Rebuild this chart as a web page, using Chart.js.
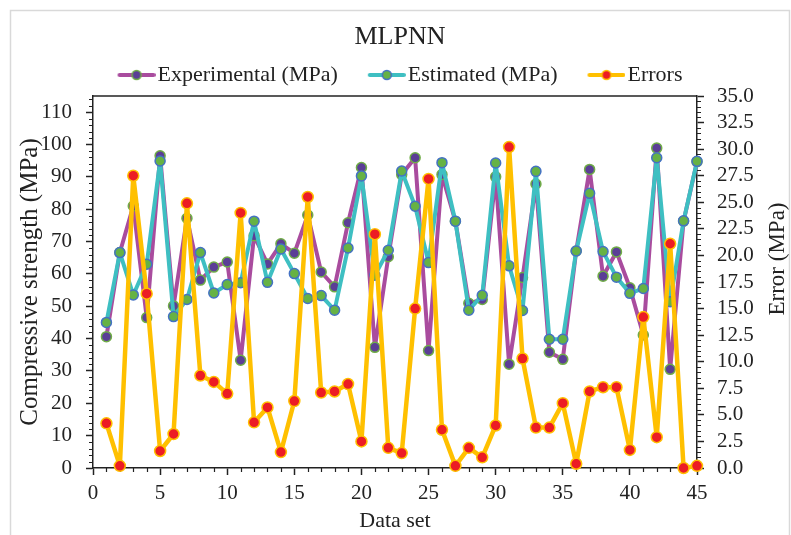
<!DOCTYPE html>
<html>
<head>
<meta charset="utf-8">
<script src="https://cdn.jsdelivr.net/npm/chart.js@4.4.1/dist/chart.umd.min.js"></script>
<style>
  html, body { margin: 0; padding: 0; background: #fff; }
  #wrap { position: relative; width: 791px; height: 535px; }
</style>
</head>
<body>
<div id="wrap"><canvas id="c" width="791" height="535"></canvas></div>
<script>
// ---- data ----
const dataSet = [1,2,3,4,5,6,7,8,9,10,11,12,13,14,15,16,17,18,19,20,21,22,23,24,25,26,27,28,29,30,31,32,33,34,35,36,37,38,39,40,41,42,43,44,45];
const experimental = [40.6,66.6,81.0,46.5,96.5,50.1,77.2,58.1,62.1,63.7,33.3,71.8,63.1,69.3,66.4,78.2,60.6,56.0,75.8,92.9,37.3,65.3,90.7,95.9,36.3,90.7,76.3,50.9,52.1,90.0,32.1,58.9,87.8,35.8,33.6,67.1,92.3,59.3,66.8,55.7,41.1,98.9,30.5,76.3,94.7];
const estimated = [45.0,66.6,53.5,63.0,94.9,46.8,52.1,66.6,54.1,56.7,57.3,76.3,57.4,67.7,60.1,52.4,53.3,48.8,68.0,90.3,59.6,67.3,91.8,80.9,63.5,94.4,76.3,48.8,53.4,94.3,62.5,48.7,91.7,39.8,39.8,67.1,84.9,66.9,59.0,54.0,55.5,95.9,51.4,76.4,94.8];
const errors = [4.2,0.2,27.5,16.4,1.6,3.2,24.9,8.7,8.1,7.0,24.0,4.3,5.7,1.5,6.3,25.5,7.1,7.2,7.9,2.5,22.0,1.9,1.4,15.0,27.2,3.6,0.2,1.9,1.0,4.0,30.2,10.3,3.8,3.8,6.1,0.4,7.2,7.6,7.6,1.7,14.2,2.9,21.1,0.0,0.2];
const seriesNames = ['Experimental (MPa)', 'Estimated (MPa)', 'Errors'];
const chartTitle = 'MLPNN';
const xTitle = 'Data set';
const yTitle = 'Compressive strength (MPa)';
const y1Title = 'Error (MPa)';

// ---- styles ----
const FONT = "'Liberation Serif', 'Times New Roman', serif";
const TXT = '#222';
const styles = [
  { line: '#A94C9E', fill: '#5B3E96', border: '#70AD47', r: 5, lw: 4 },
  { line: '#3EBFC2', fill: '#66B244', border: '#4472C4', r: 5, lw: 4 },
  { line: '#FFC000', fill: '#EC1C24', border: '#FFC000', r: 5.5, lw: 4.5 }
];

const toXY = (ys) => ys.map((v, i) => ({ x: dataSet[i], y: v }));

// legend icons: line segment with marker
const LEG_PAD = 30;
const LEG_BOX = 29;
function makeIcon(s) {
  const w = LEG_BOX + 18, h = 14;
  const cv = document.createElement('canvas');
  cv.width = w; cv.height = h;
  const c = cv.getContext('2d');
  c.strokeStyle = s.line; c.lineWidth = 4; c.lineCap = 'round';
  c.beginPath(); c.moveTo(LEG_BOX - 20 + 2, h / 2); c.lineTo(w - 2, h / 2); c.stroke();
  const cx = (LEG_BOX - 20 + w) / 2;
  c.beginPath(); c.arc(cx, h / 2, 4.5, 0, Math.PI * 2);
  c.fillStyle = s.fill; c.fill();
  c.lineWidth = 1.5; c.strokeStyle = s.border; c.stroke();
  return cv;
}
const icons = styles.map(makeIcon);

const extras = {
  id: 'extras',
  beforeDraw(chart) {
    const ctx = chart.ctx;
    ctx.save();
    ctx.strokeStyle = '#d9d9d9'; ctx.lineWidth = 1.5;
    ctx.strokeRect(10.5, 10.5, 779, 600);
    ctx.restore();
  },
  beforeDatasetsDraw(chart) {
    const { ctx, chartArea: a, scales } = chart;
    ctx.save();
    ctx.strokeStyle = '#222'; ctx.lineWidth = 1.5;
    ctx.beginPath(); ctx.moveTo(a.left, a.top); ctx.lineTo(a.right, a.top); ctx.stroke();
    // minor ticks
    ctx.lineWidth = 1.2;
    ctx.beginPath();
    for (let v = 0; v <= 45; v++) {
      if (v % 5 === 0) continue;
      const px = Math.round(scales.x.getPixelForValue(v)) + 0.5;
      ctx.moveTo(px, a.bottom); ctx.lineTo(px, a.bottom + 4);
    }
    for (let v = 0; v <= 114; v += 2) {
      if (v % 10 === 0) continue;
      const py = Math.round(scales.y.getPixelForValue(v)) + 0.5;
      ctx.moveTo(a.left, py); ctx.lineTo(a.left - 4, py);
    }
    for (let k = 0; k <= 70; k++) {
      if (k % 5 === 0) continue;
      const py = Math.round(scales.y1.getPixelForValue(k * 0.5)) + 0.5;
      ctx.moveTo(a.right, py); ctx.lineTo(a.right + 4, py);
    }
    ctx.stroke();
    ctx.restore();
  },
  afterDraw(chart) {
    const { ctx } = chart;
    ctx.save();
    ctx.fillStyle = TXT;
    ctx.font = "23px " + FONT;
    ctx.textAlign = 'center'; ctx.textBaseline = 'middle';
    ctx.translate(778, 259);
    ctx.rotate(-Math.PI / 2);
    ctx.fillText(y1Title, 0, 0);
    ctx.restore();
  }
};

new Chart(document.getElementById('c'), {
  type: 'line',
  data: {
    datasets: seriesNames.map((name, i) => ({
      label: name,
      data: toXY([experimental, estimated, errors][i]),
      yAxisID: i === 2 ? 'y1' : 'y',
      order: 3 - i,
      borderColor: styles[i].line,
      backgroundColor: styles[i].fill,
      borderWidth: styles[i].lw,
      borderJoinStyle: 'round',
      borderCapStyle: 'round',
      pointRadius: styles[i].r,
      pointHoverRadius: styles[i].r,
      pointBackgroundColor: styles[i].fill,
      pointBorderColor: styles[i].border,
      pointBorderWidth: 1.5,
      tension: 0,
      clip: false
    }))
  },
  options: {
    responsive: false,
    animation: false,
    devicePixelRatio: 1,
    layout: { padding: { top: 0, left: 9, right: 0, bottom: 0 } },
    plugins: {
      title: {
        display: true, text: chartTitle, color: TXT,
        font: { family: FONT, size: 26, weight: 'normal' },
        padding: { top: 21.4, bottom: -18.6 }
      },
      legend: {
        display: true, position: 'top',
        labels: {
          usePointStyle: true,
          pointStyleWidth: LEG_BOX,
          padding: LEG_PAD,
          color: TXT,
          font: { family: FONT, size: 22 },
          sort: (a, b) => a.datasetIndex - b.datasetIndex,
          generateLabels(chart) {
            const items = Chart.defaults.plugins.legend.labels.generateLabels(chart);
            items.forEach(it => { it.pointStyle = icons[it.datasetIndex]; it.rotation = 0; });
            return items;
          }
        }
      },
      tooltip: { enabled: false }
    },
    scales: {
      x: {
        type: 'linear', position: 'bottom', min: 0, max: 45,
        afterFit(s) { s.height = 67; },
        ticks: { stepSize: 5, color: TXT, padding: 6, font: { family: FONT, size: 21 }, maxRotation: 0, autoSkip: false },
        grid: { display: true, drawOnChartArea: false, drawTicks: true, tickLength: 7, tickColor: '#222', tickWidth: 1.5 },
        border: { display: true, color: '#222', width: 1.5 },
        title: { display: true, text: xTitle, color: TXT, font: { family: FONT, size: 22 }, padding: { top: 0, bottom: 1 } }
      },
      y: {
        type: 'linear', position: 'left', min: 0, max: 115,
        afterFit(s) { s.width = 84; },
        ticks: { stepSize: 10, includeBounds: false, autoSkip: false, color: TXT, padding: 14, font: { family: FONT, size: 21 } },
        grid: { display: true, drawOnChartArea: false, drawTicks: true, tickLength: 7, tickColor: '#222', tickWidth: 1.5 },
        border: { display: true, color: '#222', width: 1.5 },
        title: { display: true, text: yTitle, color: TXT, font: { family: FONT, size: 25 }, padding: { top: 6, bottom: 0 } }
      },
      y1: {
        type: 'linear', position: 'right', min: 0, max: 35,
        afterFit(s) { s.width = 94; },
        ticks: { stepSize: 2.5, autoSkip: false, color: TXT, padding: 13, font: { family: FONT, size: 21 }, callback: v => Number(v).toFixed(1) },
        grid: { display: true, drawOnChartArea: false, drawTicks: true, tickLength: 7, tickColor: '#222', tickWidth: 1.5 },
        border: { display: true, color: '#222', width: 1.5 },
        title: { display: false }
      }
    }
  },
  plugins: [extras]
});
</script>
</body>
</html>
